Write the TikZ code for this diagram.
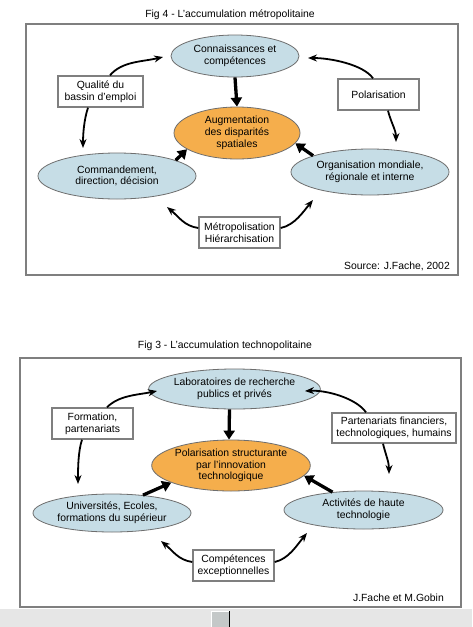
\documentclass[tikz,border=0pt]{standalone}
\usepackage{fontspec}
\setmainfont{Liberation Sans}
\usetikzlibrary{shapes.geometric,arrows.meta,calc}
\definecolor{ellblue}{HTML}{C6DDE6}
\definecolor{ellorange}{HTML}{F5AE4C}
\definecolor{framegray}{HTML}{7F7F7F}
\definecolor{edgegray}{HTML}{6E6E6E}
\definecolor{scrollgray}{HTML}{E6E6E6}
\definecolor{btngray}{HTML}{C4C8C8}
\begin{document}
\begin{tikzpicture}[x=1pt,y=-1pt,
  every node/.style={font=\fontsize{10.4}{11.7}\selectfont, inner sep=0pt, align=center},
  blueell/.style={ellipse, draw=edgegray, line width=0.8pt, fill=ellblue},
  orangeell/.style={ellipse, draw=edgegray, line width=0.8pt, fill=ellorange},
  labelbox/.style={rectangle, draw=framegray, line width=1.4pt, fill=white},
  frame/.style={draw=framegray, line width=2pt},
  cyc/.style={line width=1.8pt, -{Stealth[length=9pt,width=7pt]}},
  bigarrow/.style={line width=3.3pt, -{Triangle[length=9pt,width=11pt]}}
]
\useasboundingbox (0,0) rectangle (472,627);
\fill[white] (0,0) rectangle (472,627);

% ---------- Fig 4 ----------
\node (title4) at (230,15) {Fig 4 - L'accumulation métropolitaine};
\draw[frame] (26,24) rectangle (458,275);

\node[blueell, minimum width=128pt, minimum height=42pt] (T4) at (235,56) {Connaissances et\\compétences};
\node[orangeell, minimum width=126pt, minimum height=52pt] (O4) at (237,133)
  {\raisebox{6pt}{\begin{tabular}{@{}c@{}}Augmentation\\des disparités\\spatiales\end{tabular}}};
\node[blueell, minimum width=158pt, minimum height=46pt] (L4) at (117,176) {Commandement,\\direction, décision};
\node[blueell, minimum width=158pt, minimum height=46pt] (R4) at (370,172) {Organisation mondiale,\\régionale et interne};

\node[labelbox, minimum width=85pt, minimum height=31pt] (Q4) at (100.5,91.5) {Qualité du\\bassin d'emploi};
\node[labelbox, minimum width=81pt, minimum height=31pt] (P4) at (378.5,94.5) {Polarisation};
\node[labelbox, minimum width=81pt, minimum height=31pt] (M4) at (239.5,232.5) {Métropolisation\\Hiérarchisation};

\node[anchor=east] (src4) at (450,266) {Source: J.Fache, 2002};

\coordinate (a1) at (163,57);
\coordinate (a2) at (83,148);
\coordinate (a3) at (308,58);
\coordinate (a4) at (396,142);
\coordinate (a5) at (167,207);
\coordinate (a6) at (313,200);

\draw[cyc] ($(Q4.north)+(9.5,0)$) .. controls +(12,-14) and +(-22,5) .. (a1);
\draw[cyc] ($(Q4.south)+(-12.5,0)$) .. controls +(-4,12) and +(0,-14) .. (a2);
\draw[cyc] ($(P4.north)+(-5.5,0)$) .. controls +(-10,-14) and +(22,0) .. (a3);
\draw[cyc] ($(P4.south)+(9.5,0)$) .. controls +(3,12) and +(0,-12) .. (a4);
\draw[cyc] ($(M4.west)+(0,-4.5)$) .. controls +(-14,-2) and +(12,10) .. (a5);
\draw[cyc] ($(M4.east)+(0,-4.5)$) .. controls +(14,-3) and +(-10,12) .. (a6);

\draw[bigarrow] (T4.south) -- (O4.north);
\draw[bigarrow] (L4.15) -- (O4.198);
\draw[bigarrow] (R4.164) -- (O4.-10);

% ---------- Fig 3 ----------
\node (title3) at (225,346) {Fig 3 - L'accumulation technopolitaine};
\draw[frame] (20,358) rectangle (461,607);

\node[blueell, minimum width=139pt, minimum height=40pt] (T3) at (234.5,389) {Laboratoires de recherche\\publics et privés};
\node[orangeell, minimum width=125pt, minimum height=51pt] (O3) at (231,465.5) {Polarisation structurante\\par l'innovation\\technologique};
\node[blueell, minimum width=158pt, minimum height=38pt] (L3) at (112,513) {Universités, Ecoles,\\formations du supérieur};
\node[blueell, minimum width=159pt, minimum height=38pt] (R3) at (363.5,510) {Activités de haute\\technologie};

\node[labelbox, minimum width=81pt, minimum height=31pt] (F3) at (92.5,423.5) {Formation,\\partenariats};
\node[labelbox, minimum width=124pt, minimum height=30pt] (P3) at (394,428) {Partenariats financiers,\\technologiques, humains};
\node[labelbox, minimum width=81pt, minimum height=31pt] (C3) at (233.5,565.5) {Compétences\\exceptionnelles};

\node[anchor=east] (src3) at (444,598) {J.Fache et M.Gobin};

\coordinate (b1) at (157,391);
\coordinate (b2) at (78,484);
\coordinate (b3) at (305,391);
\coordinate (b4) at (389,474);
\coordinate (b5) at (161,541);
\coordinate (b6) at (307,533);

\draw[cyc] ($(F3.north)+(14.5,0)$) .. controls +(12,-12) and +(-20,4) .. (b1);
\draw[cyc] ($(F3.south)+(-10.5,0)$) .. controls +(-4,12) and +(0,-14) .. (b2);
\draw[cyc] ($(P3.north)+(-28,0)$) .. controls +(-10,-14) and +(22,-1) .. (b3);
\draw[cyc] ($(P3.south)+(-11,0)$) .. controls +(3,12) and +(0,-12) .. (b4);
\draw[cyc] ($(C3.west)+(0,-3.5)$) .. controls +(-14,-2) and +(12,10) .. (b5);
\draw[cyc] ($(C3.east)+(0,-3.5)$) .. controls +(14,-3) and +(-10,12) .. (b6);

\draw[bigarrow] ($(T3.south)+(-5,0)$) -- ($(O3.north)+(-2,0)$);
\draw[bigarrow] (L3.30) -- (O3.196);
\draw[bigarrow] (R3.150) -- (O3.-8);

% ---------- scroll strip ----------
\fill[scrollgray] (0,609) rectangle (472,627);
\fill[btngray] (211,611) rectangle (229,627);
\draw[white, line width=1pt] (211.5,627) -- (211.5,611.5) -- (229,611.5);
\draw[black, line width=1pt] (229.5,611) -- (229.5,627);
\end{tikzpicture}
\end{document}
